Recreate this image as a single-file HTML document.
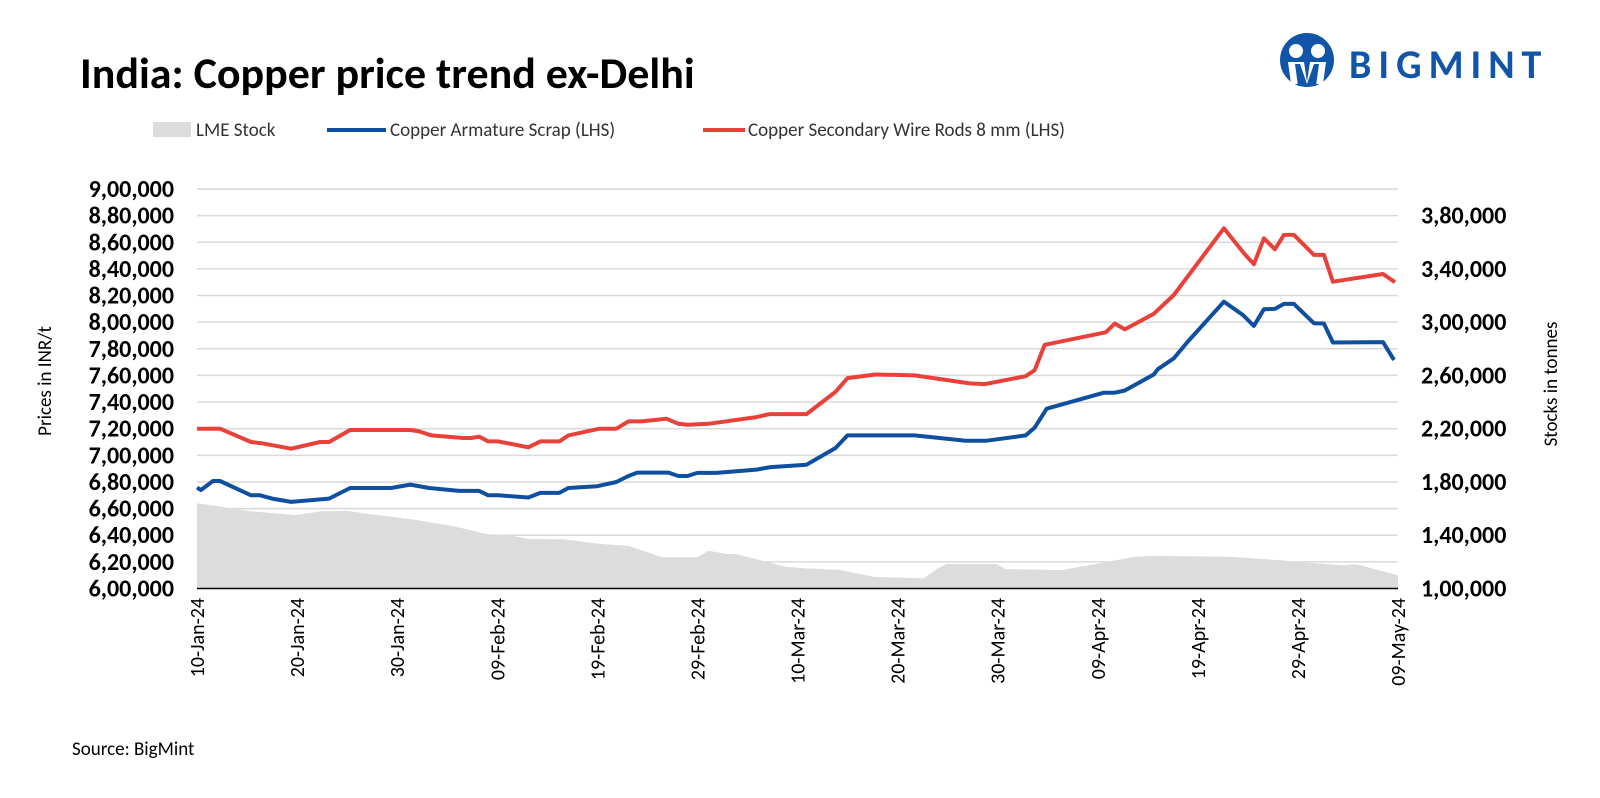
<!DOCTYPE html>
<html><head><meta charset="utf-8">
<style>
html,body{margin:0;padding:0;background:#fff;}
body{width:1600px;height:793px;overflow:hidden;position:relative;font-family:"Liberation Sans",sans-serif;}
svg text{font-family:"Carlito","Liberation Sans",sans-serif;}
</style></head>
<body>
<svg id="chart" width="1600" height="793" viewBox="0 0 1600 793" xmlns="http://www.w3.org/2000/svg">
  <text x="80" y="88" font-size="44" font-weight="bold" fill="#000">India: Copper price trend ex-Delhi</text>
  <g>
    <circle cx="1307" cy="60" r="27" fill="#1155a8"/>
    <circle cx="1296" cy="51" r="7" fill="#fff"/>
    <circle cx="1318" cy="51" r="7" fill="#fff"/>
    <path d="M1288 62 L1304 62 L1307 82 L1310 62 L1326 62 L1323 84 L1291 84 Z" fill="#fff"/>
    <path d="M1295 64 L1300 64 L1307 84 L1314 64 L1319 64 L1316 86 L1298 86 Z" fill="#1155a8"/>
    <text x="1349" y="78" font-size="40" font-weight="bold" fill="#1155a8" letter-spacing="7" font-family="Liberation Sans, sans-serif">BIGMINT</text>
  </g>
  <g font-size="19" fill="#333">
    <g>
      <rect x="153" y="122" width="38" height="15" fill="#dcdcdc"/>
      <text x="196" y="136">LME Stock</text>
    </g>
    <g>
      <line x1="327" y1="130" x2="386" y2="130" stroke="#0f4fa0" stroke-width="4"/>
      <text x="390" y="136">Copper Armature Scrap (LHS)</text>
    </g>
    <g>
      <line x1="703" y1="130" x2="745" y2="130" stroke="#e8413a" stroke-width="4"/>
      <text x="748" y="136">Copper Secondary Wire Rods 8 mm (LHS)</text>
    </g>
  </g>
  <text transform="translate(51,381) rotate(-90)" text-anchor="middle" font-size="19" fill="#000">Prices in INR/t</text>
  <text transform="translate(1557,384) rotate(-90)" text-anchor="middle" font-size="19" fill="#000">Stocks in tonnes</text>
  <g id="grid"></g>
  <g id="area"></g>
  <g id="lines"></g>
  <g id="axes"></g>
  <text x="72" y="755" font-size="19" fill="#000">Source: BigMint</text>
</svg>
<script>
// ---- data ----
const tickDays = [0,10,20,30,40,50,60,70,80,90,100,110,120];
const tickLabels = ["10-Jan-24","20-Jan-24","30-Jan-24","09-Feb-24","19-Feb-24","29-Feb-24","10-Mar-24","20-Mar-24","30-Mar-24","09-Apr-24","19-Apr-24","29-Apr-24","09-May-24"];
const leftTicks = [600000,620000,640000,660000,680000,700000,720000,740000,760000,780000,800000,820000,840000,860000,880000,900000];
const rightTicks = [100000,140000,180000,220000,260000,300000,340000,380000];

const redDays = [0,2.3,5.4,6.5,9.4,12.3,13.2,15.3,21.3,22.2,23.4,26.6,27.4,28.2,29.1,30.1,33.1,34.3,36.2,37.1,40.2,41.9,43.1,44.4,46.9,48.1,49,51.1,55.9,57,57.3,60.9,63.8,65,67.8,71.7,77.2,78.7,82.8,83.7,84.7,90.8,91.7,92.7,95.6,97.6,102.6,104.6,105.6,106.6,107.7,108.6,109.6,111.6,112.6,113.5,118.5,119.7];
const redValues = [720,720,710,709,705,710,710,719,719,718,715,713,713,714,710.5,710.5,706,710.5,710.5,715,720,720,725.5,725.5,727.5,723.7,723,723.7,728.7,730.7,731,731,747.6,758,760.7,760,754,753.5,759.4,764,783,792.4,799,794.6,806.3,820.4,870.5,851.7,843.5,863,854.7,865.5,865.5,850.5,850.5,830.4,836.2,830];

const blueDays = [0,0.4,1.6,2.3,5.4,6.3,7.5,9.4,13.2,15.3,19.4,21.3,23.2,26.2,28.2,29.1,30.1,33.1,34.3,36.2,37.1,40,41.9,43.1,44,47.1,48.1,49,50,51.9,55.9,57,57.3,60.9,63.8,65,71.7,76.8,78.9,82.8,83.7,84.9,90.6,91.7,92.7,95.6,96,97.6,99,102.6,104.5,105.6,106.6,107.7,108.6,109.6,111.6,112.6,113.5,118.5,119.6];
const blueValues = [675.8,674,680.7,680.7,670,670,667.5,665,667.5,675.5,675.5,678,675.5,673.3,673.3,670,670,668.3,671.8,671.8,675.5,676.8,680,684.5,687,687,684.5,684.5,686.8,686.8,689.3,690.8,691.2,693,705.5,715,715,711,711,715,720.8,735,747,747,748.7,760.7,764.7,772.9,785.4,815.4,805.4,797.2,809.7,810,813.7,813.7,799.2,799,784.7,785,771.7];

const stockDays = [0,2.1,5.2,9.8,12.5,15.1,16.7,22,25.9,28.9,31.2,33.1,36.6,40.4,43.1,46.5,50,51.1,53,53.8,56.9,58.8,60.8,64.2,67.6,72.6,74,74.9,79.9,80.8,86.4,90.2,93.7,95.6,103.2,108.6,111.6,114.7,115.7,116.5,120];
const stockValues = [163.9,161.9,158.1,155.1,158.1,158.3,156.4,151.4,146.4,140.9,140.1,137.2,137,133.4,132,123.4,123.4,128.4,125.9,125.9,120.1,116.4,115.1,114,108.8,107.6,115,118.4,118.4,114.6,113.8,118.9,123.8,124.5,123.8,121,119,117.5,118.3,116.9,110];

// ---- axes ----
const X0 = 197, X1 = 1398, YT = 189, YB = 588.5;
const xOf = d => X0 + (X1 - X0) * d / 120;
const yL = v => YB - (YB - YT) * (v - 600000) / 300000;
const yR = v => YB - (YB - YT) * (v - 100000) / 300000;
const NS = "http://www.w3.org/2000/svg";
function mk(tag, attrs, parent) {
  const e = document.createElementNS(NS, tag);
  for (const k in attrs) e.setAttribute(k, attrs[k]);
  parent.appendChild(e);
  return e;
}
const fmtIN = v => { const s = String(v); const last3 = s.slice(-3); let rest = s.slice(0, -3); const parts = []; while (rest.length > 2) { parts.unshift(rest.slice(-2)); rest = rest.slice(0, -2); } if (rest) parts.unshift(rest); return parts.join(",") + "," + last3; };

const grid = document.getElementById("grid");
leftTicks.forEach(v => {
  if (v === 600000) return;
  const g = mk("line", {x1: X0, x2: X1, y1: yL(v), y2: yL(v), stroke: "#d9d9d9", "stroke-width": 1.5}, grid);
  
  
});

const axes = document.getElementById("axes");
const base = mk("line", {x1: X0, x2: X1, y1: YB, y2: YB, stroke: "#000", "stroke-width": 1.5}, axes);


leftTicks.forEach(v => {
  const t = mk("text", {x: 174, y: yL(v) + 8, "text-anchor": "end", "font-size": 24, "font-weight": "bold", fill: "#000"}, axes);
  t.textContent = fmtIN(v);
  
  
});
rightTicks.forEach(v => {
  const t = mk("text", {x: 1421, y: yR(v) + 8, "font-size": 24, "font-weight": "bold", fill: "#000"}, axes);
  t.textContent = fmtIN(v);
  
  
});
tickDays.forEach((d, i) => {
  const x = xOf(d);
  const t = mk("text", {transform: `translate(${x + 7},${598}) rotate(-90)`, "text-anchor": "end", "font-size": 20, fill: "#000"}, axes);
  t.textContent = tickLabels[i];
  
  
});

// ---- area ----
const area = document.getElementById("area");
let ad = `M${xOf(stockDays[0])},${YB}`;
stockDays.forEach((d, i) => { ad += ` L${xOf(d).toFixed(1)},${yR(stockValues[i] * 1000).toFixed(1)}`; });
ad += ` L${xOf(stockDays[stockDays.length - 1])},${YB} Z`;
const ap = mk("path", {d: ad, fill: "#dcdcdc"}, area);



// ---- lines ----
const lines = document.getElementById("lines");
function line(days, vals, color, name) {
  const pts = days.map((d, i) => `${xOf(d).toFixed(1)},${yL(vals[i] * 1000).toFixed(1)}`).join(" ");
  const p = mk("polyline", {points: pts, fill: "none", stroke: color, "stroke-width": 4, "stroke-linejoin": "round"}, lines);
  
  
}
line(blueDays, blueValues, "#0f4fa0", "armature-scrap-line");
line(redDays, redValues, "#e8413a", "wire-rods-line");
</script>
</body></html>
